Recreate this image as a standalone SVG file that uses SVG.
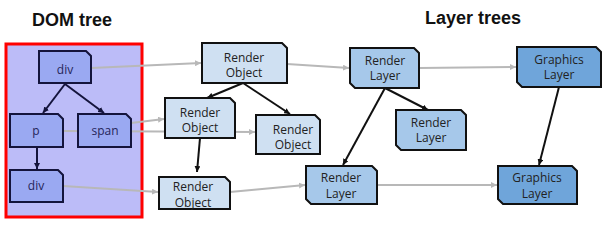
<svg xmlns="http://www.w3.org/2000/svg" width="614" height="232" viewBox="0 0 614 232">
<defs>
<style>
.title{font-family:"Liberation Sans",Arial,sans-serif;font-weight:bold;font-size:18px;fill:#111;text-anchor:middle}
.t{font-family:"Open Sans","Noto Sans",sans-serif;font-size:12px;text-anchor:middle;fill:#222}
.dom path{fill:#9aa9f2;stroke:#14143c;stroke-width:2}
.dom text{fill:#25255a}
.ro path{fill:#cfe0f2;stroke:#111;stroke-width:2}
.rl path{fill:#a6c8ea;stroke:#111;stroke-width:2}
.gl path{fill:#6fa5da;stroke:#111;stroke-width:2}
.gray{stroke:#b8b8b8;stroke-width:2;fill:none;marker-end:url(#ga)}
.blk{stroke:#111;stroke-width:2;fill:none;marker-end:url(#ba)}
.nav{stroke:#14143c;stroke-width:2;fill:none;marker-end:url(#na)}
</style>
<marker id="ga" viewBox="0 0 10 10" refX="10" refY="5" markerWidth="6" markerHeight="6" markerUnits="userSpaceOnUse" orient="auto"><path d="M0,0L10,5L0,10z" fill="#b8b8b8"/></marker>
<marker id="ba" viewBox="0 0 10 10" refX="10" refY="5" markerWidth="6" markerHeight="6" markerUnits="userSpaceOnUse" orient="auto"><path d="M0,0L10,5L0,10z" fill="#111"/></marker>
<marker id="na" viewBox="0 0 10 10" refX="10" refY="5" markerWidth="6" markerHeight="6" markerUnits="userSpaceOnUse" orient="auto"><path d="M0,0L10,5L0,10z" fill="#14143c"/></marker>
</defs>
<rect width="614" height="232" fill="#fff"/>
<text class="title" x="72" y="26">DOM tree</text>
<text class="title" x="473" y="24">Layer trees</text>
<rect x="6" y="44" width="136" height="173" fill="#bcbcf8" stroke="#f00" stroke-width="3"/>

<g id="connectors">
<path class="gray" d="M91,68 L201,63"/>
<path class="gray" d="M63,131 L255,132"/>
<path class="gray" d="M131,123 L164,119"/>
<path class="gray" d="M63,186 L158,192"/>
<path class="gray" d="M287,64 L349,68"/>
<path class="gray" d="M230,192 L305,185"/>
<path class="gray" d="M419,68 L516,67"/>
<path class="gray" d="M377,185 L497,185"/>
<path class="nav" d="M65,84 L43,113"/>
<path class="nav" d="M65,84 L104,113"/>
<path class="nav" d="M37,147 L37,169"/>
<path class="blk" d="M243,83 L207,98"/>
<path class="blk" d="M243,83 L290,114"/>
<path class="blk" d="M200,138 L197,172"/>
<path class="blk" d="M385,88 L428,110"/>
<path class="blk" d="M385,88 L343,165"/>
<path class="blk" d="M559,87 L539,165"/>
</g>

<g id="dom-div" class="dom"><path d="M39,51 H86 L91,56 V83 H39 Z"/><text class="t" x="65" y="74">div</text></g>
<g id="dom-p" class="dom"><path d="M10,114 H58 L63,119 V147 H10 Z"/><text class="t" x="36" y="135">p</text></g>
<g id="dom-span" class="dom"><path d="M78,114 H126 L131,119 V147 H78 Z"/><text class="t" x="105" y="135">span</text></g>
<g id="dom-div2" class="dom"><path d="M10,170 H58 L63,175 V202 H10 Z"/><text class="t" x="36" y="190">div</text></g>

<g id="ro1" class="ro"><path d="M202,43 H282 L287,48 V83 H202 Z"/><text class="t" x="244" y="62">Render</text><text class="t" x="244" y="77">Object</text></g>
<g id="ro2" class="ro"><path d="M165,98 H230 L235,103 V138 H165 Z"/><text class="t" x="200" y="117">Render</text><text class="t" x="200" y="132">Object</text></g>
<g id="ro3" class="ro"><path d="M256,115 H315 L320,120 V154 H256 Z"/><text class="t" x="293" y="134">Render</text><text class="t" x="293" y="149">Object</text></g>
<g id="ro4" class="ro"><path d="M159,177 H225 L230,182 V209 H159 Z"/><text class="t" x="193" y="191">Render</text><text class="t" x="193" y="207">Object</text></g>

<g id="rl1" class="rl"><path d="M350,48 H414 L419,53 V88 H355 L350,83 Z"/><text class="t" x="385" y="65">Render</text><text class="t" x="385" y="80">Layer</text></g>
<g id="rl2" class="rl"><path d="M396,110 H461 L466,115 V150 H401 L396,145 Z"/><text class="t" x="431" y="127">Render</text><text class="t" x="431" y="142">Layer</text></g>
<g id="rl3" class="rl"><path d="M306,166 H372 L377,171 V204 H311 L306,199 Z"/><text class="t" x="341" y="182">Render</text><text class="t" x="341" y="198">Layer</text></g>
<g id="gl1" class="gl"><path d="M517,47 H596 L601,52 V87 H522 L517,82 Z"/><text class="t" x="559" y="64">Graphics</text><text class="t" x="559" y="79">Layer</text></g>
<g id="gl2" class="gl"><path d="M498,166 H572 L577,171 V204 H503 L498,199 Z"/><text class="t" x="537" y="182">Graphics</text><text class="t" x="537" y="198">Layer</text></g>
</svg>
